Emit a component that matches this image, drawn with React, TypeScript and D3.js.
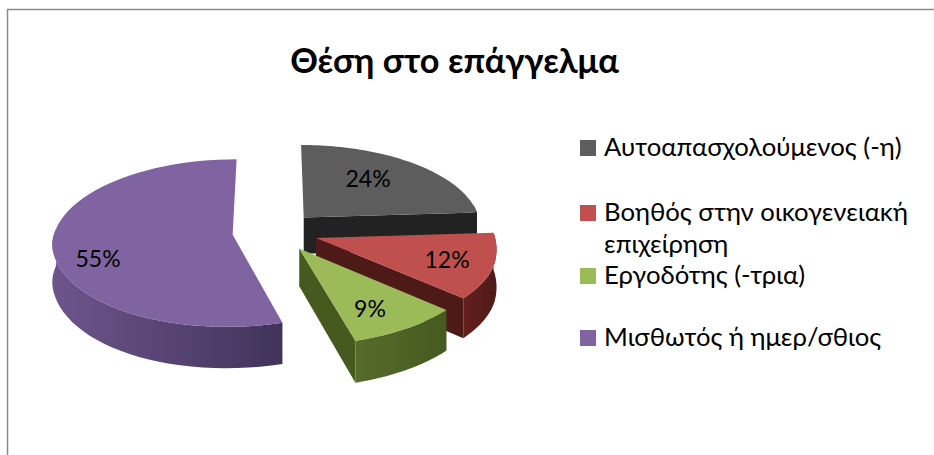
import React from "react";
import * as d3 from "d3";

const categories = ["Αυτοαπασχολούμενος (-η)", "Βοηθός στην οικογενειακή επιχείρηση", "Εργοδότης (-τρια)", "Μισθωτός ή ημερ/σθιος"];
const legendLines = [["Αυτοαπασχολούμενος (-η)"], ["Βοηθός στην οικογενειακή", "επιχείρηση"], ["Εργοδότης (-τρια)"], ["Μισθωτός ή ημερ/σθιος"]];
const values = [24, 12, 9, 55];
const topColors = ["#5d5d5d", "#c0504d", "#9bbb59", "#8064a2"];
const wallLight = ["#2c2c2c", "#651f1d", "#566c2b", "#6d558c"];
const wallDark = ["#222222", "#4e1a18", "#46591f", "#41335a"];
const labelPos: [number, number][] = [[368, 179], [447, 260], [370, 309], [98, 259]];
const legendY = [148, 213, 276, 338];
const FONT = "Lato, 'Open Sans', sans-serif";

const cx = 275, cy = 231.6, B = 178, A = 82.6, k = 0.103, explode = 0.24, depth = 37;
const project = (X: number, Y: number) => {
  const w = 1 + k * Y;
  const front = Math.min(Y, 0);
  return {
    x: cx + (B * X) / w - 7 * front * front,
    y: cy - (A * Y) / w + 3.2 * X * Math.min(1, -front * 3),
    w,
  };
};

export default function App() {
  const arcs = d3.pie<number>().sort(null)(values);
  const line = d3.line<[number, number]>().x((d) => d[0]).y((d) => d[1]);
  const slices = arcs.map((a, i) => {
    const mid = (a.startAngle + a.endAngle) / 2;
    const ox = Math.sin(mid) * explode, oy = Math.cos(mid) * explode;
    const apex = project(ox, oy);
    const angles = d3.range(0, 61).map((j) => a.startAngle + ((a.endAngle - a.startAngle) * j) / 60);
    const rim = angles.map((t) => project(ox + Math.sin(t), oy + Math.cos(t)));
    const top: [number, number][] = [[apex.x, apex.y], ...rim.map((p) => [p.x, p.y] as [number, number])];
    const low = (p: { x: number; y: number; w: number }): [number, number] => [p.x, p.y + depth / p.w];
    // Only the front-facing part of the rim shows a wall.
    const front = rim.filter((_, j) => angles[j] > 1.4 && angles[j] < 4.8);
    const outer: [number, number][] = [...front.map((p) => [p.x, p.y] as [number, number]), ...front.slice().reverse().map(low)];
    const e = rim[rim.length - 1];
    const cutEnd: [number, number][] = [[apex.x, apex.y], [e.x, e.y], low(e), low(apex)];
    const xs = rim.map((p) => p.x);
    return { i, top, outer, cutEnd, x0: d3.min(xs)!, x1: d3.max(xs)! };
  });
  return (
    <svg width={934} height={455} style={{ position: "absolute", left: 0, top: 0, background: "#fff" }}>
      <defs>
        {slices.map((s) => (
          <linearGradient key={s.i} id={`w${s.i}`} gradientUnits="userSpaceOnUse" x1={s.x0} x2={s.x1} y1={0} y2={0}>
            <stop offset="0%" stopColor={wallLight[s.i]} />
            <stop offset="100%" stopColor={wallDark[s.i]} />
          </linearGradient>
        ))}
      </defs>
      <path d="M7.5 455V9.5H934" fill="none" stroke="#8a8a8a" strokeWidth={1.5} />
      <text x={454.5} y={73} textAnchor="middle" fontFamily={FONT} fontWeight={700} fontSize={34.3} fill="#000">Θέση στο επάγγελμα</text>
      {slices.map((s) => (
        <g key={s.i}>
          {s.i < 3 && <path d={line(s.cutEnd)! + "Z"} fill={wallDark[s.i]} />}
          {s.outer.length > 0 && <path d={line(s.outer)! + "Z"} fill={`url(#w${s.i})`} />}
          <path d={line(s.top)! + "Z"} fill={topColors[s.i]} />
        </g>
      ))}
      {values.map((v, i) => (
        <text key={i} x={labelPos[i][0]} y={labelPos[i][1]} dy="0.35em" textAnchor="middle" fontFamily={FONT} fontSize={23} fill="#000">{v}%</text>
      ))}
      {categories.map((c, i) => (
        <g key={c}>
          <rect x={580} y={legendY[i] - 8} width={16} height={16} fill={topColors[i]} />
          <text fontFamily={FONT} fontSize={25.7} fill="#000">
            {legendLines[i].map((l, j) => (
              <tspan key={j} x={604} y={legendY[i] + 8 + j * 32}>{l}</tspan>
            ))}
          </text>
        </g>
      ))}
    </svg>
  );
}
